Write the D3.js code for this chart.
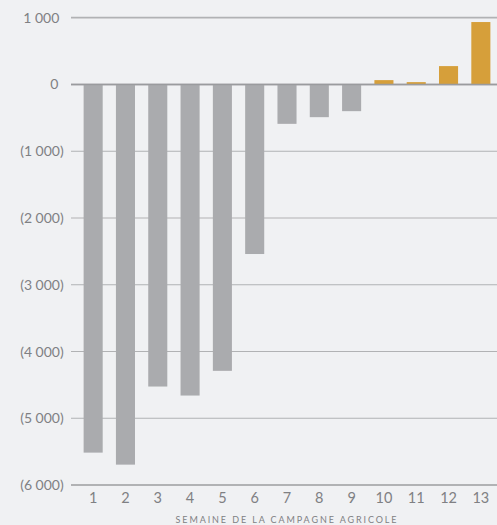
<!DOCTYPE html>
<html>
<head>
<meta charset="utf-8">
<script src="https://cdn.jsdelivr.net/npm/d3@7"></script>
<style>
  html, body { margin: 0; padding: 0; background: #f0f1f3; }
  svg { display: block; }
  text { font-family: "Lato", "Open Sans", sans-serif; }
</style>
</head>
<body>
<svg id="chart" width="497" height="525"></svg>
<script>
// Weekly balance by week of the agricultural campaign
const weeks = ["1","2","3","4","5","6","7","8","9","10","11","12","13"];
const values = [-5515, -5695, -4525, -4660, -4290, -2540, -590, -490, -400, 65, 35, 275, 935];
const yTicks = [1000, 0, -1000, -2000, -3000, -4000, -5000, -6000];
const xTitle = "SEMAINE DE LA CAMPAGNE AGRICOLE";

const W = 497, H = 525;
const gridLeft = 71;
const textColor = "#7f8083";
const svg = d3.select("#chart");

svg.append("rect").attr("width", W).attr("height", H).attr("fill", "#f0f1f3");

const y = d3.scaleLinear().domain([-6000, 1000]).range([485, 17.7]);
const x = d3.scaleBand().domain(weeks).range([77, 497]).paddingInner(0.41).paddingOuter(0.205);

// Accounting format: negatives in parentheses, thin space as thousands separator
const fmt = v => {
  const s = Math.abs(v).toLocaleString("en-US").replace(/,/g, "\u202F");
  return v < 0 ? "(" + s + ")" : s;
};

// Horizontal grid lines
svg.append("g").selectAll("line").data(yTicks).join("line")
  .attr("x1", gridLeft).attr("x2", W)
  .attr("y1", d => y(d)).attr("y2", d => y(d))
  .attr("stroke", d => d === 0 ? "#9a9b9e" : "#b1b2b4")
  .attr("stroke-width", d => (d === 1000 || d === -6000) ? 1.8 : (d === 0 ? 1.6 : 1.1));

// Y labels: digits aligned, closing parenthesis hangs to the right
const ls = 1.0;
svg.append("g").selectAll("text").data(yTicks).join("text")
  .attr("x", d => (d < 0 ? 62.7 : 58.3) + ls).attr("y", d => y(d)).attr("dy", "0.36em")
  .attr("text-anchor", "end")
  .attr("fill", textColor).attr("font-size", 14)
  .attr("letter-spacing", ls + "px")
  .text(fmt);

// Bars
svg.append("g").selectAll("rect").data(values).join("rect")
  .attr("x", (d, i) => x(weeks[i]))
  .attr("width", x.bandwidth())
  .attr("y", d => y(Math.max(0, d)))
  .attr("height", d => Math.abs(y(d) - y(0)))
  .attr("fill", d => d >= 0 ? "#d69f3a" : "#aaabae");

// Redraw zero line over bars
svg.append("line")
  .attr("x1", gridLeft).attr("x2", W)
  .attr("y1", y(0)).attr("y2", y(0))
  .attr("stroke", "#9a9b9e").attr("stroke-width", 1.6);

// X labels
const xAxis = d3.axisBottom(x).tickSize(0).tickPadding(0);
const gx = svg.append("g").attr("transform", `translate(0,${y(-6000)})`).call(xAxis);
gx.select(".domain").remove();
gx.selectAll("text")
  .attr("y", 13).attr("dy", "0.36em")
  .attr("fill", textColor).attr("font-size", 14.5)
  .style("font-family", "Lato, 'Open Sans', sans-serif");

// X title
svg.append("text")
  .attr("x", 287).attr("y", 522.7)
  .attr("text-anchor", "middle")
  .attr("fill", textColor).attr("font-size", 9)
  .attr("letter-spacing", "1.9px")
  .text(xTitle);
</script>
</body>
</html>
